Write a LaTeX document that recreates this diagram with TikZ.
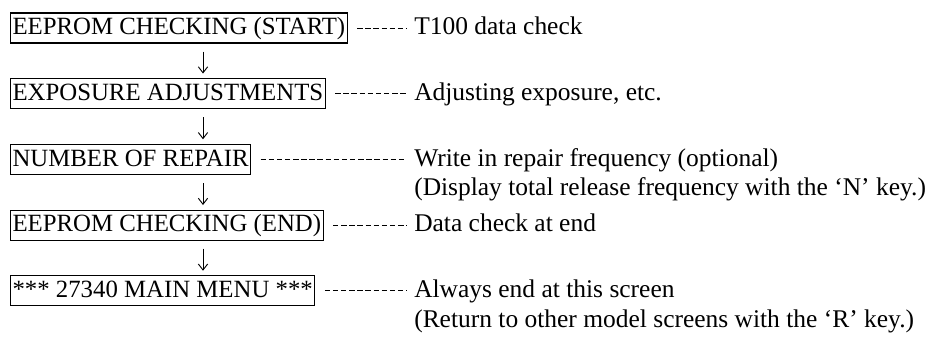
\documentclass[tikz,border=0pt]{standalone}
\usepackage{fontspec}
\setmainfont{Liberation Serif}
\usepackage{tikz}
\usetikzlibrary{arrows.meta, positioning}

\begin{document}
\begin{tikzpicture}[
		x=0.75pt, y=-0.75pt,
		font=\fontsize{19.1}{22}\selectfont,
		screen/.style={rectangle, draw, line width=0.8pt, inner xsep=1.5pt, inner ysep=0pt,
			minimum height=22.5pt, text height=13pt, text depth=3pt,
			font=\fontsize{18.6}{22}\selectfont},
		note/.style={inner sep=0pt, text height=13pt, text depth=3pt},
		flow/.style={-{Straight Barb[length=4.5pt, width=7pt]}, line width=0.7pt,
			shorten <=6pt, shorten >=3.5pt},
		leader/.style={line width=0.7pt, dash pattern=on 4.1pt off 2pt,
			shorten <=7pt, shorten >=5.5pt}
		]
		\useasboundingbox (0,0) rectangle (930,351);
		\coordinate (ax) at (203,0);
		\coordinate (tx) at (414,0);
		
		% 1. Columna de pantallas
		\node[screen, anchor=west] (eepstart) at (10,28) {EEPROM CHECKING (START)};
		\node[screen, below=26pt of eepstart.south west, anchor=north west] (expo) {EXPOSURE ADJUSTMENTS};
		\node[screen, below=26pt of expo.south west, anchor=north west] (repair) {NUMBER OF REPAIR};
		\node[screen, below=26pt of repair.south west, anchor=north west] (eepend) {EEPROM CHECKING (END)};
		\node[screen, below=26pt of eepend.south west, anchor=north west] (menu) {*** 27340 MAIN MENU ***};
		
		% 2. Notas a la derecha
		\node[note, anchor=west] (nstart) at (eepstart -| tx) {T100 data check};
		\node[note, anchor=west] (nexpo) at (expo -| tx) {Adjusting exposure, etc.};
		\node[note, anchor=west] (nrepair) at (repair -| tx) {Write in repair frequency (optional)};
		\node[note, below=5.75pt of nrepair.south west, anchor=north west] (nrepair2)
		{(Display total release frequency with the ‘N’ key.)};
		\node[note, anchor=west] (nend) at (eepend -| tx) {Data check at end};
		\node[note, anchor=west] (nmenu) at (menu -| tx) {Always end at this screen};
		\node[note, below=5.75pt of nmenu.south west, anchor=north west] (nmenu2)
		{(Return to other model screens with the ‘R’ key.)};
		
		% 3. Flechas entre pantallas
		\draw[flow] (eepstart.south -| ax) -- (expo.north -| ax);
		\draw[flow] (expo.south -| ax) -- (repair.north -| ax);
		\draw[flow] (repair.south -| ax) -- (eepend.north -| ax);
		\draw[flow] (eepend.south -| ax) -- (menu.north -| ax);
		
		% 4. Lineas de puntos hacia las notas
		\draw[leader] (eepstart) -- (nstart);
		\draw[leader] (expo) -- (nexpo);
		\draw[leader] (repair) -- (nrepair);
		\draw[leader] (eepend) -- (nend);
		\draw[leader] (menu) -- (nmenu);
		
	\end{tikzpicture}
\end{document}
